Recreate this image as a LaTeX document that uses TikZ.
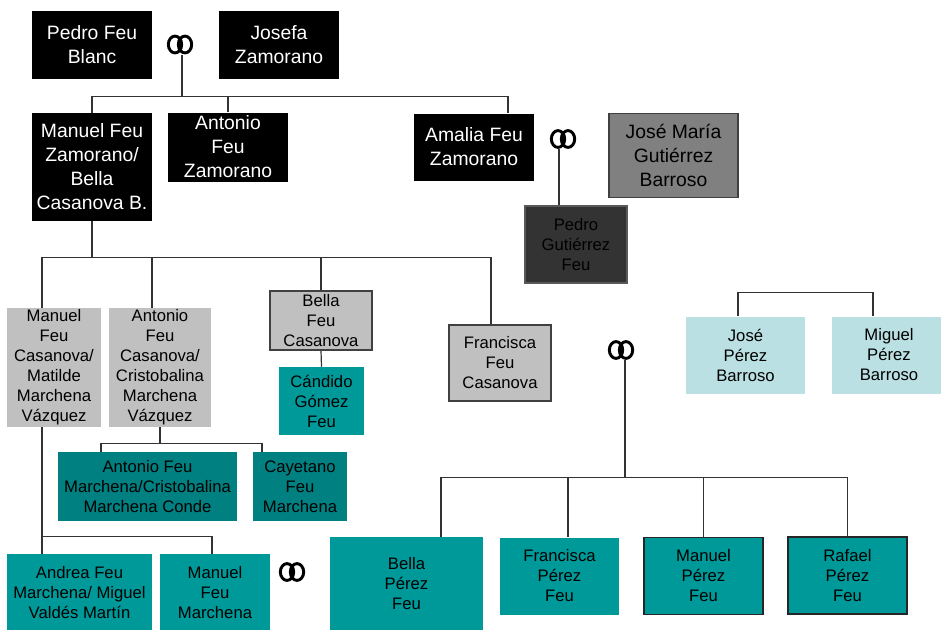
\documentclass[tikz,border=0pt]{standalone}
\usepackage{fontspec}
\setmainfont{Liberation Sans}
\usetikzlibrary{calc}

\definecolor{tealA}{HTML}{009999}
\definecolor{tealB}{HTML}{008080}
\definecolor{greyA}{HTML}{C0C0C0}
\definecolor{greyB}{HTML}{808080}
\definecolor{greyC}{HTML}{333333}
\definecolor{blueA}{HTML}{BBE0E3}

\begin{document}
\begin{tikzpicture}[x=0.75pt, y=-0.75pt,
    every node/.style={inner sep=0pt, align=center},
    sz/.style 2 args={minimum width=#1*0.75pt, minimum height=#2*0.75pt},
    big/.style={font=\fontsize{14.5}{18}\selectfont},
    little/.style={font=\fontsize{12.5}{15}\selectfont},
    blackbox/.style={big, fill=black, text=white},
    greybox/.style={little, fill=greyA},
    greyframe/.style={greybox, draw=black!75, line width=1.2pt},
    tealbox/.style={little, fill=tealA},
    darkteal/.style={little, fill=tealB},
    tealframe/.style={tealbox, draw=black!85, line width=0.8pt},
    bluebox/.style={little, fill=blueA},
    ring/.style={sz={26}{20}},
    link/.style={draw=black!80, line width=0.9pt}]

    \useasboundingbox (0,0) rectangle (941,629);

    % first generations
    \node[blackbox, sz={120}{68}]  (pfb)  at (92,45)      {Pedro Feu\\Blanc};
    \node[blackbox, sz={120}{68}]  (jz)   at (279,45)     {Josefa\\Zamorano};
    \node[blackbox, sz={120}{108}] (mfz)  at (92,167)     {Manuel Feu\\Zamorano/\\Bella\\Casanova B.};
    \node[blackbox, sz={120}{69}]  (afz)  at (228,147)    {Antonio\\Feu\\Zamorano};
    \node[blackbox, sz={120}{67}]  (amz)  at (474,147)    {Amalia Feu\\Zamorano};
    \node[big, fill=greyB, draw=black!75, line width=1pt, sz={129}{84}] (jmgb) at (673.5,155.5) {Jos\'e Mar\'ia\\Guti\'errez\\Barroso};
    \node[little, fill=greyC, draw=black!65, line width=0.8pt, sz={102}{77}] (pgf) at (576,244.5) {Pedro\\Guti\'errez\\Feu};

    % Casanova
    \node[greybox, sz={94}{119}]   (mfc)  at (54,367.5)   {Manuel\\Feu\\Casanova/\\Matilde\\Marchena\\V\'azquez};
    \node[greybox, sz={102}{119}]  (afc)  at (160,367.5)  {Antonio\\Feu\\Casanova/\\Cristobalina\\Marchena\\V\'azquez};
    \node[greyframe, sz={102}{59}] (bfc)  at (321,320.5)  {Bella\\Feu\\Casanova};
    \node[tealbox, sz={85}{68}]    (cgf)  at (321.5,401)  {C\'andido\\G\'omez\\Feu};
    \node[greyframe, sz={102}{76}] (ffc)  at (500,363)    {Francisca\\Feu\\Casanova};

    % Marchena
    \node[darkteal, sz={179}{69}]  (afm)  at (147.5,486.5) {Antonio Feu\\Marchena/Cristobalina\\Marchena Conde};
    \node[darkteal, sz={94}{69}]   (cfm)  at (300,486.5)  {Cayetano\\Feu\\Marchena};
    \node[tealbox, sz={145}{78}]   (afmv) at (79.5,593)   {Andrea Feu\\Marchena/ Miguel\\Vald\'es Mart\'in};
    \node[tealbox, sz={110}{78}]   (mfm)  at (215,593)    {Manuel\\Feu\\Marchena};

    % P\'erez
    \node[tealbox, sz={153}{94}]   (bpf)  at (406.5,584)  {Bella\\P\'erez\\Feu};
    \node[tealbox, sz={119}{77}]   (fpf)  at (559.5,576)  {Francisca\\P\'erez\\Feu};
    \node[tealframe, sz={119}{77}] (mpf)  at (703.5,576)  {Manuel\\P\'erez\\Feu};
    \node[tealframe, sz={119}{77}] (rpf)  at (847.5,575.5) {Rafael\\P\'erez\\Feu};
    \node[bluebox, sz={119}{77}]   (jpb)  at (745.5,355)  {Jos\'e\\P\'erez\\Barroso};
    \node[bluebox, sz={114}{77}]   (mpb)  at (889,355)    {Miguel\\P\'erez\\Barroso};

    % wedding rings
    \foreach \n/\cx/\cy in {r1/180/44.5, r2/563/139, r3/292/572, r4/621/350}{
        \node[ring] (\n) at (\cx,\cy) {};
        \draw[line width=2.2pt] (\cx-5,\cy) ellipse [x radius=5pt, y radius=6.3pt]
                                (\cx+5,\cy) ellipse [x radius=5pt, y radius=6.3pt];
    }

    % connectors
    \coordinate (r1o) at ($(r1.south)+(2,0)$);
    \coordinate (b1) at ($(r1o)+(0,41.5)$);
    \coordinate (amzIn) at ($(amz.north)+(34,0)$);
    \draw[link] (r1o) -- (b1);
    \draw[link] (mfz.north) |- (b1) -| (amzIn);
    \draw[link] (afz.north) -- (afz.north |- b1);

    \coordinate (r2o) at ($(r2.south)+(-4,0)$);
    \draw[link] (r2o) -- (r2o |- pgf.north);

    \coordinate (b2) at ($(mfz.south)+(0,36)$);
    \coordinate (mfcIn) at ($(mfc.north)+(-12,0)$);
    \coordinate (afcIn) at ($(afc.north)+(-8,0)$);
    \coordinate (ffcIn) at ($(ffc.north)+(-9,0)$);
    \draw[link] (mfz.south) -- (b2);
    \draw[link] (mfcIn) |- (b2) -| (ffcIn);
    \draw[link] (afcIn) -- (afcIn |- b2);
    \draw[link] (bfc.north) -- (bfc.north |- b2);
    \draw[link] (bfc.south) -- (cgf.north);

    \coordinate (b3) at ($(afc.south)+(0,16)$);
    \coordinate (afmIn) at ($(afm.north)+(-46.5,0)$);
    \coordinate (cfmIn) at ($(cfm.north)+(-38,0)$);
    \draw[link] (afc.south) -- (b3);
    \draw[link] (afmIn) |- (b3) -| (cfmIn);

    \coordinate (mfcOut) at ($(mfc.south)+(-12,0)$);
    \coordinate (afmvIn) at ($(afmv.north)+(-37.5,0)$);
    \coordinate (mfmIn) at ($(mfm.north)+(-3,0)$);
    \coordinate (b4) at ($(afmvIn)+(0,-17)$);
    \draw[link] (mfcOut) -- (afmvIn);
    \draw[link] (b4) -| (mfmIn);

    \coordinate (r4o) at ($(r4.south)+(4,0)$);
    \coordinate (b5) at ($(r4o)+(0,117)$);
    \coordinate (bpfIn) at ($(bpf.north)+(34.5,0)$);
    \coordinate (fpfIn) at ($(fpf.north)+(8.5,0)$);
    \draw[link] (r4o) -- (b5);
    \draw[link] (bpfIn) |- (b5) -| (rpf.north);
    \draw[link] (fpfIn) -- (fpfIn |- b5);
    \draw[link] (mpf.north) -- (mpf.north |- b5);

    \coordinate (jpbIn) at ($(jpb.north)+(-7.5,0)$);
    \coordinate (mpbIn) at ($(mpb.north)+(-16,0)$);
    \draw[link] (jpbIn) -- ++(0,-24) -| (mpbIn);

\end{tikzpicture}
\end{document}
